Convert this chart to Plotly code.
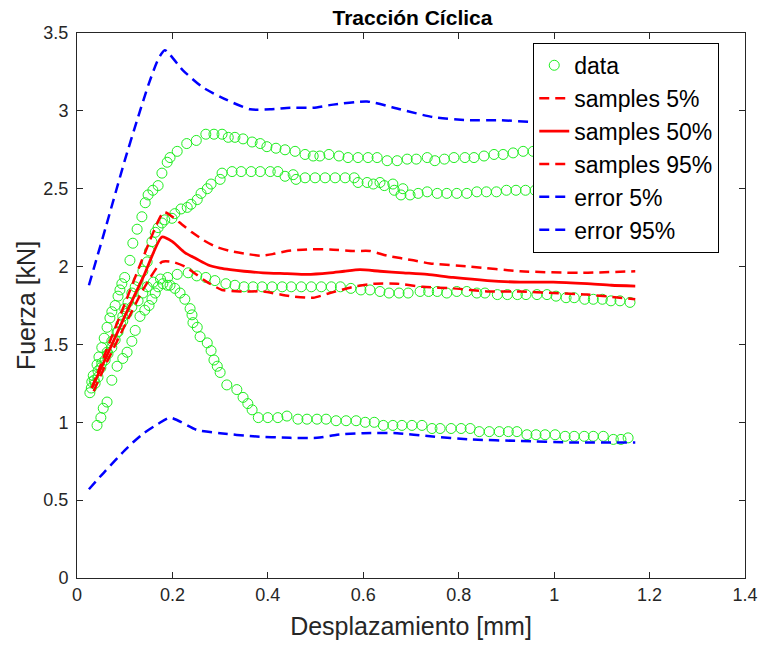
import plotly.graph_objects as go

# ---- data ----
xA = [0.027,0.031,0.034,0.042,0.046,0.052,0.057,0.063,0.069,0.073,0.080,0.086,0.090,0.094,0.100,0.111,0.117,0.126,0.136,0.143,0.149,0.159,0.170,0.178,0.189,0.195,0.210,0.230,0.250,0.270,0.287,0.304,0.317,0.331,0.348,0.367,0.384,0.398,0.417,0.436,0.457,0.478,0.495,0.509,0.528,0.549,0.568,0.589,0.610,0.629,0.650,0.671,0.692,0.711,0.734,0.750,0.770,0.790,0.813,0.832,0.853,0.874,0.893,0.914,0.935,0.956,0.977,0.998,1.02,1.04,1.06,1.08,1.10,1.12,1.14,1.16]
yA = [1.19,1.26,1.30,1.37,1.42,1.48,1.54,1.61,1.67,1.71,1.75,1.81,1.85,1.89,1.93,2.04,2.15,2.24,2.32,2.41,2.46,2.49,2.52,2.60,2.67,2.70,2.74,2.79,2.81,2.85,2.85,2.85,2.83,2.83,2.82,2.80,2.79,2.77,2.76,2.75,2.74,2.72,2.71,2.71,2.72,2.71,2.70,2.70,2.70,2.70,2.68,2.68,2.69,2.69,2.70,2.68,2.69,2.70,2.70,2.70,2.71,2.72,2.72,2.73,2.74,2.74,2.75,2.75,2.75,2.76,2.76,2.76,2.76,2.77,2.77,2.77]

xB = [0.038,0.044,0.050,0.059,0.065,0.073,0.080,0.086,0.092,0.096,0.100,0.107,0.115,0.122,0.128,0.138,0.147,0.152,0.157,0.164,0.170,0.178,0.184,0.199,0.205,0.218,0.231,0.239,0.252,0.260,0.273,0.281,0.300,0.304,0.325,0.344,0.365,0.384,0.405,0.421,0.436,0.453,0.459,0.478,0.499,0.520,0.541,0.562,0.581,0.589,0.608,0.621,0.635,0.644,0.662,0.665,0.683,0.679,0.698,0.715,0.734,0.755,0.775,0.796,0.817,0.838,0.858,0.879,0.900,0.920,0.940,0.960,0.980,1.000,1.02,1.04,1.06,1.08,1.10,1.12,1.14,1.16]
yB = [1.25,1.29,1.35,1.40,1.44,1.48,1.53,1.58,1.63,1.68,1.73,1.77,1.83,1.87,1.91,1.97,2.03,2.10,2.16,2.22,2.25,2.28,2.30,2.31,2.34,2.37,2.38,2.40,2.43,2.47,2.50,2.53,2.56,2.60,2.61,2.61,2.61,2.61,2.61,2.61,2.58,2.59,2.56,2.57,2.57,2.57,2.57,2.57,2.57,2.54,2.54,2.53,2.54,2.52,2.53,2.49,2.50,2.46,2.46,2.47,2.48,2.47,2.47,2.47,2.47,2.48,2.48,2.48,2.49,2.49,2.49,2.49,2.49,2.49,2.50,2.50,2.50,2.50,2.50,2.50,2.51,2.51]

xC = [0.030,0.036,0.044,0.052,0.063,0.073,0.084,0.096,0.105,0.115,0.128,0.138,0.147,0.160,0.175,0.190,0.210,0.233,0.251,0.270,0.289,0.312,0.331,0.350,0.369,0.388,0.409,0.430,0.449,0.470,0.491,0.512,0.533,0.552,0.574,0.595,0.614,0.635,0.654,0.675,0.694,0.719,0.737,0.755,0.775,0.796,0.817,0.838,0.855,0.881,0.902,0.923,0.941,0.964,0.985,1.004,1.025,1.042,1.064,1.082,1.101,1.119,1.138,1.159]
yC = [1.22,1.27,1.33,1.38,1.45,1.52,1.58,1.65,1.70,1.74,1.78,1.83,1.87,1.90,1.92,1.93,1.95,1.96,1.94,1.93,1.91,1.89,1.88,1.87,1.87,1.87,1.87,1.87,1.87,1.87,1.87,1.87,1.87,1.87,1.86,1.85,1.85,1.84,1.83,1.83,1.83,1.84,1.84,1.84,1.83,1.84,1.84,1.83,1.83,1.82,1.82,1.82,1.82,1.82,1.82,1.81,1.80,1.80,1.79,1.79,1.79,1.78,1.78,1.77]

xD = [0.042,0.050,0.055,0.063,0.073,0.084,0.096,0.105,0.115,0.122,0.132,0.142,0.151,0.157,0.164,0.170,0.180,0.189,0.195,0.205,0.216,0.226,0.237,0.241,0.243,0.252,0.258,0.273,0.281,0.287,0.294,0.300,0.314,0.335,0.348,0.358,0.367,0.380,0.400,0.421,0.440,0.463,0.482,0.503,0.522,0.543,0.564,0.585,0.604,0.623,0.642,0.662,0.681,0.702,0.723,0.744,0.761,0.784,0.805,0.824,0.843,0.864,0.885,0.904,0.922,0.943,0.962,0.981,1.002,1.023,1.042,1.063,1.082,1.103,1.124,1.140,1.155]
yD = [0.98,1.03,1.09,1.13,1.27,1.36,1.41,1.45,1.52,1.59,1.68,1.72,1.75,1.79,1.83,1.87,1.89,1.88,1.88,1.86,1.83,1.79,1.73,1.69,1.64,1.61,1.55,1.51,1.46,1.40,1.36,1.32,1.24,1.21,1.16,1.12,1.08,1.03,1.03,1.03,1.04,1.02,1.02,1.02,1.02,1.01,1.01,1.01,1.00,1.00,0.98,0.98,0.98,0.98,0.98,0.96,0.96,0.96,0.96,0.96,0.94,0.94,0.94,0.94,0.94,0.92,0.92,0.92,0.92,0.91,0.91,0.91,0.91,0.91,0.89,0.89,0.90]

x_s05 = [0.035,0.060,0.100,0.140,0.178,0.200,0.226,0.268,0.304,0.346,0.390,0.446,0.495,0.530,0.579,0.621,0.671,0.725,0.788,0.860,0.929,0.998,1.069,1.170]
y_s05 = [1.20,1.37,1.62,1.86,2.03,2.03,2.00,1.91,1.85,1.84,1.84,1.81,1.80,1.83,1.87,1.89,1.89,1.87,1.86,1.84,1.84,1.83,1.82,1.79]

x_s50 = [0.031,0.060,0.100,0.140,0.178,0.200,0.226,0.250,0.275,0.300,0.321,0.350,0.390,0.440,0.482,0.530,0.560,0.593,0.635,0.684,0.734,0.788,0.860,0.929,0.998,1.069,1.120,1.170]
y_s50 = [1.22,1.41,1.68,1.94,2.19,2.16,2.09,2.05,2.01,1.99,1.98,1.97,1.96,1.955,1.95,1.96,1.97,1.98,1.97,1.96,1.95,1.93,1.91,1.90,1.90,1.89,1.88,1.875]

x_s95 = [0.031,0.060,0.100,0.140,0.182,0.200,0.220,0.241,0.265,0.289,0.321,0.358,0.384,0.410,0.440,0.482,0.530,0.580,0.614,0.650,0.705,0.740,0.824,0.929,1.055,1.170]
y_s95 = [1.22,1.45,1.76,2.07,2.35,2.32,2.27,2.22,2.17,2.13,2.10,2.08,2.07,2.08,2.10,2.11,2.11,2.10,2.10,2.07,2.04,2.02,2.00,1.97,1.96,1.97]

x_e05 = [0.025,0.060,0.100,0.117,0.140,0.170,0.195,0.252,0.300,0.369,0.447,0.503,0.545,0.600,0.671,0.740,0.824,0.929,1.034,1.170]
y_e05 = [0.57,0.69,0.82,0.87,0.93,0.99,1.03,0.95,0.93,0.91,0.90,0.90,0.92,0.93,0.93,0.91,0.89,0.88,0.87,0.87]

x_e95 = [0.025,0.060,0.100,0.126,0.150,0.170,0.184,0.222,0.264,0.314,0.363,0.405,0.447,0.495,0.537,0.608,0.677,0.746,0.818,0.887,0.950,1.050,1.170]
y_e95 = [1.88,2.25,2.68,2.94,3.17,3.33,3.39,3.26,3.15,3.07,3.01,3.01,3.02,3.02,3.04,3.06,3.01,2.96,2.94,2.94,2.93,2.93,2.93]

legend_names = ["data", "samples 5%", "samples 50%", "samples 95%", "error 5%", "error 95%"]
x_ticks = [0, 0.2, 0.4, 0.6, 0.8, 1, 1.2, 1.4]
x_ticktext = ["0", "0.2", "0.4", "0.6", "0.8", "1", "1.2", "1.4"]
y_ticks = [0, 0.5, 1, 1.5, 2, 2.5, 3, 3.5]
y_ticktext = ["0", "0.5", "1", "1.5", "2", "2.5", "3", "3.5"]

GREEN = "#1fee1f"
RED = "#ff0000"
BLUE = "#0000ff"
FONT = "Liberation Sans"
DASH = "10px,6px"

fig = go.Figure()

xs_data = xA + xB + xC + xD
ys_data = yA + yB + yC + yD
fig.add_trace(go.Scatter(
    x=xs_data, y=ys_data, mode="markers", name=legend_names[0],
    marker=dict(symbol="circle-open", size=10, color=GREEN, line=dict(width=1, color=GREEN)),
))
fig.add_trace(go.Scatter(x=x_s05, y=y_s05, mode="lines", name=legend_names[1],
                         line=dict(color=RED, width=2.5, dash=DASH, shape="spline", smoothing=0.6)))
fig.add_trace(go.Scatter(x=x_s50, y=y_s50, mode="lines", name=legend_names[2],
                         line=dict(color=RED, width=2.8, shape="spline", smoothing=0.6)))
fig.add_trace(go.Scatter(x=x_s95, y=y_s95, mode="lines", name=legend_names[3],
                         line=dict(color=RED, width=2.5, dash=DASH, shape="spline", smoothing=0.6)))
fig.add_trace(go.Scatter(x=x_e05, y=y_e05, mode="lines", name=legend_names[4],
                         line=dict(color=BLUE, width=2.5, dash=DASH, shape="spline", smoothing=0.6)))
fig.add_trace(go.Scatter(x=x_e95, y=y_e95, mode="lines", name=legend_names[5],
                         line=dict(color=BLUE, width=2.5, dash=DASH, shape="spline", smoothing=0.6)))

axis_common = dict(
    showline=True, linecolor="#262626", linewidth=1, mirror="ticks",
    ticks="inside", ticklen=6, tickcolor="#262626",
    showgrid=False, zeroline=False, automargin=False, ticklabeloverflow="allow",
    tickfont=dict(family=FONT, size=18, color="#262626"),
)

fig.update_layout(
    width=761, height=645,
    margin=dict(l=77, r=16, t=33, b=67),
    paper_bgcolor="white", plot_bgcolor="white",
    title=dict(text="<b>Tracción Cíclica</b>", x=0.542, xanchor="center", y=0.973, yanchor="middle",
               font=dict(family=FONT, size=21, color="black")),
    xaxis=dict(range=[0, 1.4], tickvals=x_ticks, ticktext=x_ticktext,
               title=dict(text="Desplazamiento [mm]", font=dict(family=FONT, size=25, color="#262626"), standoff=13),
               **axis_common),
    yaxis=dict(range=[0, 3.5], tickvals=y_ticks, ticktext=y_ticktext, ticklabelstandoff=4,
               title=dict(text="Fuerza [kN]", font=dict(family=FONT, size=25, color="#262626"), standoff=0),
               **axis_common),
    legend=dict(x=0.683, y=0.982, xanchor="left", yanchor="top",
                bgcolor="white", bordercolor="black", borderwidth=1,
                font=dict(family=FONT, size=23, color="black"),
                tracegroupgap=0, itemwidth=30),
    showlegend=True,
)

# remove the browser's default 8px body margin so the figure fills the window exactly
post = ("document.body.style.margin='0';document.body.style.overflow='hidden';"
        "var gd=document.getElementById('{plot_id}');"
        "Plotly.relayout(gd,{width:761,height:645});")
fig.write_html("out.html", post_script=post, config={"displayModeBar": False})
